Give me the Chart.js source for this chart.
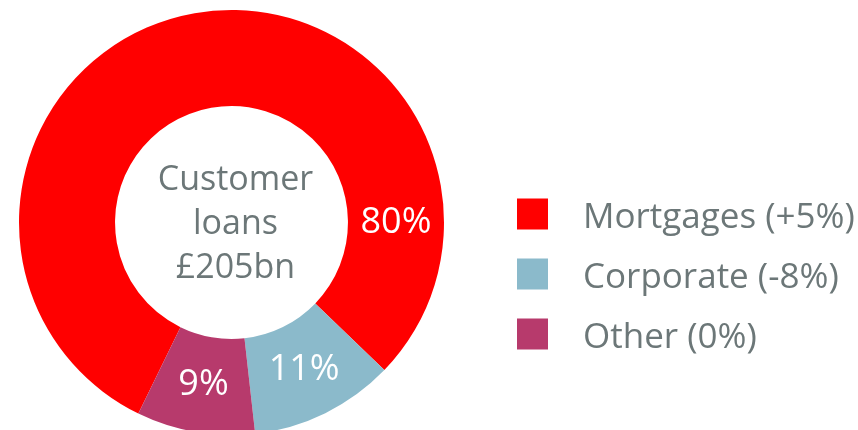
<!DOCTYPE html>
<html>
<head>
<meta charset="utf-8">
<script src="https://cdn.jsdelivr.net/npm/chart.js@4.4.0/dist/chart.umd.min.js"></script>
<style>
  html, body { margin: 0; padding: 0; background: #fff; overflow: hidden; }
  #wrap { position: relative; width: 858px; height: 440px; }
</style>
</head>
<body>
<div id="wrap"><canvas id="loansChart"></canvas></div>
<script>
// --- chart data ---
const segmentLabels = ['Mortgages', 'Corporate', 'Other'];
const segmentShares = [80, 11, 9];
const segmentChanges = ['+5%', '-8%', '0%'];
const segmentColors = ['#ff0000', '#8bbacb', '#b73a6c'];
const centerLines = ['Customer', 'loans', '£205bn'];
// --- end data ---

const FONT = '"Open Sans", sans-serif';
const GREY = '#6c7778';

// percentage labels on the ring
const sliceLabels = {
    id: 'sliceLabels',
    afterDatasetsDraw(chart) {
        const ctx = chart.ctx;
        const meta = chart.getDatasetMeta(0);
        ctx.save();
        ctx.fillStyle = '#fff';
        ctx.font = '36px ' + FONT;
        ctx.textAlign = 'center';
        ctx.textBaseline = 'middle';
        meta.data.forEach((arc, i) => {
            const p = arc.getProps(['x', 'y', 'startAngle', 'endAngle', 'innerRadius', 'outerRadius'], true);
            let angle = (p.startAngle + p.endAngle) / 2;
            // slice that wraps past 3 o'clock gets its label there
            const full = Math.PI * 2;
            const s = ((p.startAngle % full) + full) % full;
            if (s + (p.endAngle - p.startAngle) > full) angle = 0;
            const r = (p.innerRadius + p.outerRadius) / 2;
            ctx.fillText(segmentShares[i] + '%', p.x + Math.cos(angle) * r, p.y + Math.sin(angle) * r);
        });
        ctx.restore();
    }
};

// text in the hole
const centerText = {
    id: 'centerText',
    afterDraw(chart) {
        const ctx = chart.ctx;
        const arc = chart.getDatasetMeta(0).data[0];
        ctx.save();
        ctx.fillStyle = GREY;
        ctx.font = '34px ' + FONT;
        ctx.textAlign = 'center';
        ctx.textBaseline = 'middle';
        centerLines.forEach((t, i) => {
            ctx.fillText(t, arc.x + 4, arc.y + 2 + (i - 1) * 44);
        });
        ctx.restore();
    }
};

// legend on the right
const sideLegend = {
    id: 'sideLegend',
    afterDraw(chart) {
        const ctx = chart.ctx;
        const area = chart.chartArea;
        const cy = (area.top + area.bottom) / 2;
        const x0 = area.right + 73;
        ctx.save();
        ctx.font = '35px ' + FONT;
        ctx.textAlign = 'left';
        ctx.textBaseline = 'alphabetic';
        segmentLabels.forEach((name, i) => {
            const top = cy - 24 + i * 60;
            ctx.fillStyle = segmentColors[i];
            ctx.fillRect(x0, top, 31, 31);
            ctx.fillStyle = GREY;
            ctx.fillText(name + ' (' + segmentChanges[i] + ')', x0 + 66, top + 29);
        });
        ctx.restore();
    }
};

document.addEventListener('DOMContentLoaded', () => {
    const ctx = document.getElementById('loansChart').getContext('2d');
    new Chart(ctx, {
        type: 'doughnut',
        data: {
            labels: segmentLabels,
            datasets: [{
                data: segmentShares,
                backgroundColor: segmentColors,
                borderWidth: 0
            }]
        },
        options: {
            responsive: true,
            maintainAspectRatio: false,
            animation: false,
            rotation: 206,
            cutout: '54.8%',
            layout: { padding: { left: 19, top: 10, right: 414, bottom: 5 } },
            plugins: {
                legend: { display: false },
                tooltip: { enabled: false }
            }
        },
        plugins: [sliceLabels, centerText, sideLegend]
    });
});
</script>
</body>
</html>
